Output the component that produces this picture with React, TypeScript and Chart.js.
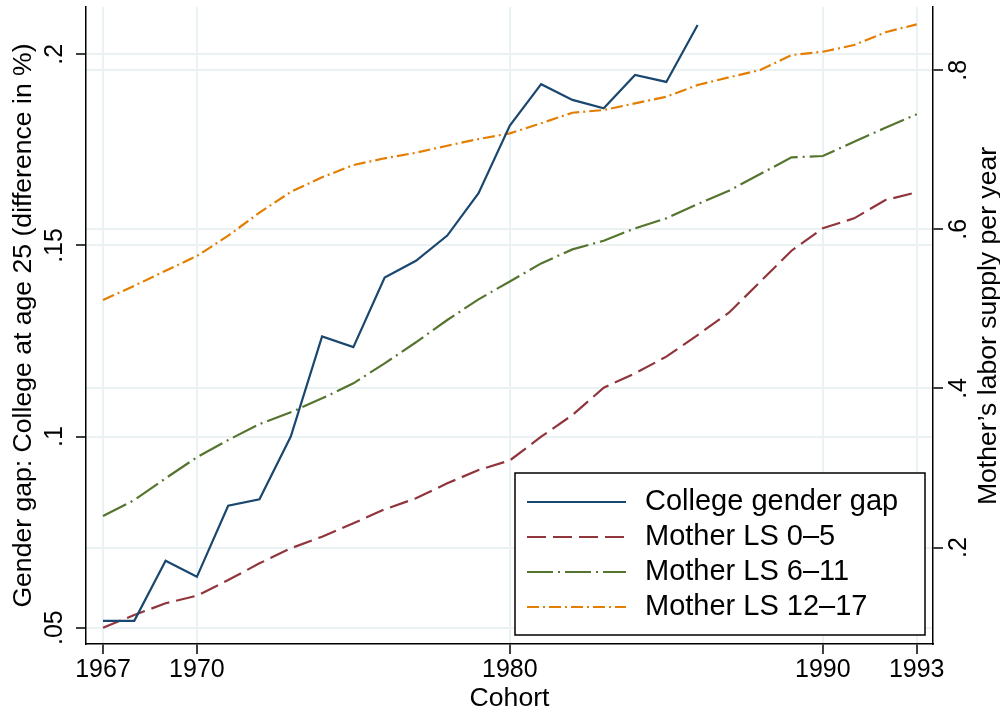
import React, { useEffect, useRef } from "react";
import { Chart, registerables } from "chart.js";

Chart.register(...registerables);

// ---------- data ----------
const years = [
  1967, 1968, 1969, 1970, 1971, 1972, 1973, 1974, 1975, 1976, 1977, 1978, 1979,
  1980, 1981, 1982, 1983, 1984, 1985, 1986, 1987, 1988, 1989, 1990, 1991, 1992, 1993,
];

// College gender gap (left axis), cohorts 1967-1986
const collegeGap = [
  0.0518, 0.0518, 0.0675, 0.0633, 0.0819, 0.0836, 0.1, 0.1262, 0.1234, 0.1416,
  0.146, 0.1526, 0.1637, 0.1814, 0.1922, 0.1881, 0.1859, 0.1946, 0.1928, 0.2077,
];

// Mother labor supply (right axis), cohorts 1967-1993
const motherLS0to5 = [
  0.0992, 0.1151, 0.1299, 0.1394, 0.1591, 0.1801, 0.199, 0.2136, 0.2304, 0.248,
  0.2618, 0.2807, 0.2974, 0.3095, 0.3393, 0.3666, 0.4009, 0.419, 0.4399, 0.4671,
  0.4952, 0.5341, 0.5731, 0.6013, 0.6138, 0.6368, 0.6465,
];
const motherLS6to11 = [
  0.2396, 0.2597, 0.287, 0.3134, 0.3351, 0.3552, 0.37, 0.3875, 0.4064, 0.4315,
  0.458, 0.486, 0.512, 0.5345, 0.5572, 0.5748, 0.5857, 0.6013, 0.6138, 0.6318,
  0.6485, 0.6695, 0.6905, 0.6922, 0.7101, 0.7277, 0.7446,
];
const motherLS12to17 = [
  0.5111, 0.529, 0.548, 0.5664, 0.592, 0.621, 0.647, 0.6654, 0.6808, 0.6893,
  0.6963, 0.7051, 0.7135, 0.7207, 0.7333, 0.7466, 0.75, 0.7584, 0.7667, 0.7814,
  0.7911, 0.8003, 0.8191, 0.8233, 0.8317, 0.8477, 0.8577,
];

const seriesNames = [
  "College gender gap",
  "Mother LS 0\u20135",
  "Mother LS 6\u201311",
  "Mother LS 12\u201317",
];

const xTicks = [1967, 1970, 1980, 1990, 1993];
const xTickLabels = ["1967", "1970", "1980", "1990", "1993"];
const leftTicks = [0.05, 0.1, 0.15, 0.2];
const leftTickLabels = [".05", ".1", ".15", ".2"];
const rightTicks = [0.2, 0.4, 0.6, 0.8];
const rightTickLabels = [".2", ".4", ".6", ".8"];

const xTitle = "Cohort";
const leftTitle = "Gender gap: College at age 25 (difference in %)";
const rightTitle = "Mother\u2019s labor supply per year";

// ---------- styling ----------
const FONT = "'Liberation Sans', Arial, Helvetica, sans-serif";
const GRID = "#eaf2f3";
const TITLE_SIZE = 26.6;

export default function App() {
  const ref = useRef<HTMLCanvasElement>(null);

  useEffect(() => {
    const canvas = ref.current;
    if (!canvas) return;

    const toXY = (vals: number[]) => vals.map((v, i) => ({ x: years[i], y: v }));

    const datasets: any[] = [
      {
        label: seriesNames[0],
        data: toXY(collegeGap),
        yAxisID: "y",
        borderColor: "#1a476f",
        borderWidth: 2.2,
        borderDash: [],
      },
      {
        label: seriesNames[1],
        data: toXY(motherLS0to5),
        yAxisID: "y1",
        borderColor: "#90353b",
        borderWidth: 2.2,
        borderDash: [19, 7],
      },
      {
        label: seriesNames[2],
        data: toXY(motherLS6to11),
        yAxisID: "y1",
        borderColor: "#55752f",
        borderWidth: 2.2,
        borderDash: [26, 5, 2, 5],
      },
      {
        label: seriesNames[3],
        data: toXY(motherLS12to17),
        yAxisID: "y1",
        borderColor: "#e37e00",
        borderWidth: 2.2,
        borderDash: [12, 4, 2, 4],
      },
    ];

    const legendPlugin = {
      id: "stataLegend",
      afterDraw(chart: any) {
        const ctx = chart.ctx as CanvasRenderingContext2D;
        const a = chart.chartArea;
        const w = 410;
        const h = 162;
        const right = a.right - 8;
        const bottom = a.bottom - 9;
        const left = right - w;
        const top = bottom - h;
        ctx.save();
        ctx.fillStyle = "#ffffff";
        ctx.fillRect(left, top, w, h);
        ctx.strokeStyle = "#000000";
        ctx.lineWidth = 1.5;
        ctx.setLineDash([]);
        ctx.strokeRect(left, top, w, h);
        chart.data.datasets.forEach((ds: any, i: number) => {
          const yy = top + 29 + i * 35;
          ctx.beginPath();
          ctx.setLineDash(ds.borderDash || []);
          ctx.lineWidth = ds.borderWidth;
          ctx.strokeStyle = ds.borderColor;
          ctx.moveTo(left + 12, yy);
          ctx.lineTo(left + 111, yy);
          ctx.stroke();
          ctx.setLineDash([]);
          ctx.fillStyle = "#000000";
          ctx.font = `29px ${FONT}`;
          ctx.textAlign = "left";
          ctx.textBaseline = "middle";
          ctx.fillText(ds.label, left + 130, yy);
        });
        ctx.restore();
      },
    };

    const rightTitlePlugin = {
      id: "rightTitle",
      afterDraw(chart: any) {
        const ctx = chart.ctx as CanvasRenderingContext2D;
        const a = chart.chartArea;
        ctx.save();
        ctx.translate(988.5, (a.top + a.bottom) / 2 + 0.5);
        ctx.rotate(-Math.PI / 2);
        ctx.fillStyle = "#000000";
        ctx.font = `${TITLE_SIZE}px ${FONT}`;
        ctx.textAlign = "center";
        ctx.textBaseline = "middle";
        ctx.fillText(rightTitle, 0, 0);
        ctx.restore();
      },
    };

    const noPad = (s: any) => {
      s.paddingTop = 0;
      s.paddingBottom = 0;
      s.paddingLeft = 0;
      s.paddingRight = 0;
    };

    const chart = new Chart(canvas, {
      type: "line",
      data: { datasets },
      options: {
        responsive: false,
        animation: false,
        devicePixelRatio: 1,
        layout: { padding: { top: 7, left: 0, right: 0, bottom: 0 } },
        plugins: {
          legend: { display: false },
          tooltip: { enabled: false },
        },
        elements: {
          point: { radius: 0 },
          line: { tension: 0, fill: false },
        },
        scales: {
          x: {
            type: "linear",
            position: "bottom",
            min: 1966.457,
            max: 1993.521,
            bounds: "data",
            afterBuildTicks: (s: any) => {
              s.ticks = xTicks.map((v) => ({ value: v }));
            },
            afterFit: (s: any) => {
              s.height = 68;
              noPad(s);
            },
            ticks: {
              font: { family: FONT, size: 25, lineHeight: 1.2 },
              color: "#000",
              padding: 1,
              minRotation: 0,
              maxRotation: 0,
              autoSkip: false,
              callback: (_v: any, i: number) => xTickLabels[i],
            },
            grid: {
              color: GRID,
              lineWidth: 2,
              tickColor: "#000",
              tickLength: 10,
              tickWidth: 1.5,
            },
            border: { color: "#000", width: 1.5 },
            title: {
              display: true,
              text: xTitle,
              color: "#000",
              font: { family: FONT, size: TITLE_SIZE, lineHeight: 1 },
              padding: { top: 0, bottom: 0 },
            },
          },
          y: {
            type: "linear",
            position: "left",
            min: 0.04573,
            max: 0.2124,
            bounds: "data",
            afterBuildTicks: (s: any) => {
              s.ticks = leftTicks.map((v) => ({ value: v }));
            },
            afterFit: (s: any) => {
              s.width = 86;
              noPad(s);
            },
            ticks: {
              font: { family: FONT, size: 25, lineHeight: 1.2 },
              color: "#000",
              padding: 3.6,
              minRotation: 90,
              maxRotation: 90,
              crossAlign: "center",
              autoSkip: false,
              callback: (_v: any, i: number) => leftTickLabels[i],
            },
            grid: {
              color: GRID,
              lineWidth: 2,
              tickColor: "#000",
              tickLength: 10,
              tickWidth: 1.5,
            },
            border: { color: "#000", width: 1.5 },
            title: {
              display: true,
              text: leftTitle,
              color: "#000",
              font: { family: FONT, size: TITLE_SIZE, lineHeight: 1 },
              padding: { top: 10.8, bottom: 0 },
            },
          },
          y1: {
            type: "linear",
            position: "right",
            min: 0.0787,
            max: 0.8795,
            bounds: "data",
            afterBuildTicks: (s: any) => {
              s.ticks = rightTicks.map((v) => ({ value: v }));
            },
            afterFit: (s: any) => {
              s.width = 67;
              noPad(s);
            },
            ticks: {
              font: { family: FONT, size: 25, lineHeight: 1.2 },
              color: "#000",
              padding: 6,
              minRotation: 90,
              maxRotation: 90,
              crossAlign: "center",
              autoSkip: false,
              callback: (_v: any, i: number) => rightTickLabels[i],
            },
            grid: {
              color: GRID,
              lineWidth: 2,
              tickColor: "#000",
              tickLength: 10,
              tickWidth: 1.5,
              drawOnChartArea: true,
            },
            border: { color: "#000", width: 1.5 },
            title: { display: false },
          },
        },
      } as any,
      plugins: [legendPlugin, rightTitlePlugin],
    });

    return () => chart.destroy();
  }, []);

  return (
    <div
      style={{
        position: "absolute",
        left: 0,
        top: 0,
        width: 1000,
        height: 712,
        background: "#ffffff",
      }}
    >
      <canvas ref={ref} width={1000} height={712} style={{ display: "block" }} />
    </div>
  );
}
